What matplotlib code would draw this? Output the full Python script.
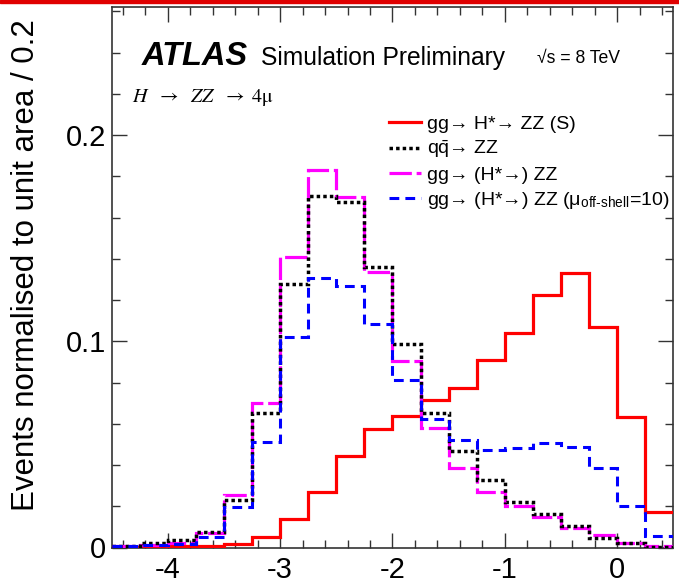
import matplotlib
matplotlib.use("Agg")
import matplotlib.pyplot as plt
from matplotlib.patches import Rectangle
from matplotlib.ticker import MultipleLocator, FixedLocator, FuncFormatter
import numpy as np

plt.rcParams['font.family'] = ['Liberation Sans', 'DejaVu Sans']
plt.rcParams['mathtext.fontset'] = 'stix'

# bin edges (-4.5 .. 0.5, width 0.25)
bin_lo = -4.5
bin_width = 0.25
n_bins = 20
edges = bin_lo + bin_width * np.arange(n_bins + 1)

sig_S = [0.0003, 0.0003, 0.0005, 0.0006, 0.0017, 0.0050, 0.0137, 0.0271, 0.0445, 0.0577,
         0.0637, 0.0715, 0.0772, 0.0910, 0.1041, 0.1225, 0.1333, 0.1068, 0.0632, 0.0174]
qqZZ = [0.0008, 0.0020, 0.0035, 0.0075, 0.0232, 0.0652, 0.1278, 0.1705, 0.1677, 0.1360,
        0.0987, 0.0653, 0.0467, 0.0329, 0.0222, 0.0164, 0.0103, 0.0045, 0.0020, 0.0003]
ggZZ = [0.0008, 0.0010, 0.0023, 0.0071, 0.0255, 0.0703, 0.1407, 0.1831, 0.1698, 0.1338,
        0.0906, 0.0580, 0.0387, 0.0271, 0.0201, 0.0149, 0.0094, 0.0060, 0.0020, 0.0006]
ggZZ_mu10 = [0.0008, 0.0010, 0.0016, 0.0052, 0.0196, 0.0512, 0.1022, 0.1306, 0.1270, 0.1082,
             0.0813, 0.0625, 0.0519, 0.0473, 0.0481, 0.0508, 0.0489, 0.0384, 0.0202, 0.0056]

labels = ["gg→ H*→ ZZ (S)",
          "q$\\mathregular{\\bar{q}}$→ ZZ",
          "gg→ (H*→) ZZ",
          "gg→ (H*→) ZZ (μ$_{\\mathregular{off\u2010shell}}$=10)"]

W, H = 679, 584
fig = plt.figure(figsize=(W / 100, H / 100), dpi=100)
ax = fig.add_axes([111.7 / W, 1 - 547.5 / H, (673.3 - 111.7) / W, (547.5 - 7.3) / H])

s1 = ax.stairs(sig_S, edges, baseline=None, color='#ff0000', lw=2.3, label=labels[0], zorder=3)
s2 = ax.stairs(qqZZ, edges, baseline=None, color='black', lw=2.5,
               linestyle=(0, (1.0, 0.9)), label=labels[1], zorder=4)
s3 = ax.stairs(ggZZ, edges, baseline=None, color='#ff00ff', lw=2.3,
               linestyle=(0, (7.0, 1.5)), label=labels[2], zorder=3.5)
s4 = ax.stairs(ggZZ_mu10, edges, baseline=None, color='#0000ff', lw=2.2,
               linestyle=(0, (3.2, 2.0)), label=labels[3], zorder=5)

ax.set_xlim(-4.5, 0.5)
ax.set_ylim(0, 0.262)

ax.xaxis.set_major_locator(FixedLocator([-4, -3, -2, -1, 0]))
ax.xaxis.set_minor_locator(MultipleLocator(0.2))
ax.yaxis.set_major_locator(FixedLocator([0, 0.1, 0.2]))
ax.yaxis.set_minor_locator(MultipleLocator(0.02))
ax.xaxis.set_major_formatter(FuncFormatter(lambda v, p: "%g" % v))
ax.yaxis.set_major_formatter(FuncFormatter(lambda v, p: "%g" % v))

ax.tick_params(which='both', direction='in', top=True, right=True, color='#333333')
ax.tick_params(which='major', length=11, width=1.0)
ax.tick_params(which='minor', length=6, width=1.0)
ax.tick_params(axis='x', which='major', labelsize=21, pad=6)
ax.tick_params(axis='y', which='major', labelsize=21, pad=4)
for sp in ax.spines.values():
    sp.set_color('#333333')
    sp.set_linewidth(1.2)

fig.text(26.5 / W, 1 - 510.7 / H, "Events normalised to unit area / 0.2",
         rotation=90, ha='center', va='bottom', fontsize=22.5)

ax.text(0.0534, 0.893, "ATLAS", transform=ax.transAxes, fontsize=23.5,
        fontweight='bold', fontstyle='italic', ha='left', va='baseline')
ax.text(0.266, 0.893, "Simulation Preliminary", transform=ax.transAxes, fontsize=17.7,
        ha='left', va='baseline')
ax.text(0.757, 0.896, "√s = 8 TeV", transform=ax.transAxes, fontsize=12.7,
        ha='left', va='baseline')
ax.text(0.0356, 0.825, r"$H\ \ \rightarrow\ \ ZZ\ \ \rightarrow\ 4\mathrm{\mu}$",
        transform=ax.transAxes, fontsize=14.5, ha='left', va='baseline')

leg = ax.legend(handles=[s1, s2, s3, s4], loc='upper left',
                bbox_to_anchor=(0.494, 0.800), frameon=False, fontsize=14,
                handlelength=1.65, handletextpad=0.3, labelspacing=0.3,
                borderpad=0, borderaxespad=0)

fig.patches.append(Rectangle((0, 1 - 3 / H), 1, 3 / H, transform=fig.transFigure,
                             color='#e00000', zorder=10))

fig.savefig("out.png", dpi=100)
